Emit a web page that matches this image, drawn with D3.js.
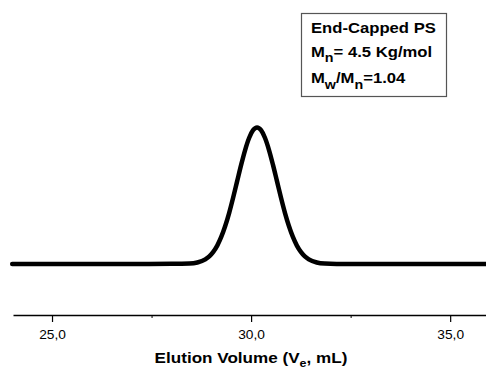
<!DOCTYPE html>
<html>
<head>
<meta charset="utf-8">
<script src="https://cdnjs.cloudflare.com/ajax/libs/d3/7.8.5/d3.min.js"></script>
<style>
  body { margin: 0; background: #fff; }
  text { font-family: "Liberation Sans", Arial, sans-serif; fill: #000; }
</style>
</head>
<body>
<div id="chart"></div>
<script>
// GPC trace (elution volume in mL, normalised detector signal)
var elutionVol = [24.0, 25, 26, 27, 28, 28.45, 28.65, 28.85, 28.95, 29.05, 29.15, 29.25, 29.35,
    29.45, 29.55, 29.65, 29.75, 29.85, 29.95, 30.05, 30.15, 30.25, 30.35, 30.45, 30.55, 30.65,
    30.75, 30.85, 30.95, 31.05, 31.15, 31.25, 31.35, 31.45, 31.65, 31.85, 32.15, 33, 34, 35, 35.9];
var signal = [0, 0, 0, 0, 0.001, 0.003, 0.011, 0.034, 0.056, 0.089, 0.135, 0.198, 0.278,
    0.375, 0.487, 0.607, 0.726, 0.835, 0.923, 0.980, 1.0, 0.980, 0.923, 0.835, 0.726, 0.607,
    0.487, 0.375, 0.278, 0.198, 0.135, 0.089, 0.056, 0.034, 0.011, 0.003, 0.0005, 0, 0, 0, 0];
var majorTicks = [25, 30, 35];
var minorTicks = [27.5, 32.5];

var width = 486, height = 372;

var svg = d3.select("#chart").append("svg")
    .attr("width", width)
    .attr("height", height);

// scales
var x = d3.scaleLinear()
    .domain([24.02, 35.9])
    .range([13, 486]);

var y = d3.scaleLinear()
    .domain([0, 1])
    .range([264, 127.5]);

// x axis
var axisY = 315;
var xAxis = svg.append("g")
    .attr("transform", "translate(0," + axisY + ")")
    .call(d3.axisBottom(x)
        .tickValues(majorTicks)
        .tickSize(7)
        .tickSizeOuter(0)
        .tickPadding(8)
        .tickFormat(function (d) { return d.toFixed(1).replace(".", ","); }));

xAxis.select(".domain").attr("stroke-width", 1.5);
xAxis.selectAll(".tick line").attr("stroke-width", 1.2);
xAxis.selectAll(".tick text")
    .attr("font-size", "12.5px")
    .attr("transform", "scale(1.1,1)");

svg.append("g")
    .attr("transform", "translate(0," + axisY + ")")
    .call(d3.axisBottom(x).tickValues(minorTicks).tickSize(3).tickFormat(""))
    .call(function (g) { g.select(".domain").remove(); });

// axis title
var title = svg.append("text")
    .attr("transform", "translate(251,363) scale(1.14,1)")
    .attr("text-anchor", "middle")
    .attr("font-size", "15px")
    .attr("font-weight", "bold");
title.append("tspan").text("Elution Volume (V");
title.append("tspan").attr("dy", 4).attr("font-size", "11px").text("e");
title.append("tspan").attr("dy", -4).text(", mL)");

// trace
var line = d3.line()
    .x(function (d, i) { return x(elutionVol[i]); })
    .y(function (d) { return y(d); })
    .curve(d3.curveMonotoneX);

svg.append("path")
    .datum(signal)
    .attr("d", line)
    .attr("fill", "none")
    .attr("stroke", "#000")
    .attr("stroke-width", 4.5)
    .attr("stroke-linejoin", "round")
    .attr("stroke-linecap", "round");

// legend box
svg.append("rect")
    .attr("x", 301.5)
    .attr("y", 13.5)
    .attr("width", 145)
    .attr("height", 83)
    .attr("fill", "#fff")
    .attr("stroke", "#555")
    .attr("stroke-width", 1.2);

var legend = svg.append("g")
    .attr("font-size", "14px")
    .attr("font-weight", "bold");

legend.append("text")
    .attr("transform", "translate(311,32.5) scale(1.19,1)")
    .text("End-Capped PS");

var l2 = legend.append("text")
    .attr("transform", "translate(311,57) scale(1.19,1)");
l2.append("tspan").text("M");
l2.append("tspan").attr("dy", 5).attr("font-size", "12px").text("n");
l2.append("tspan").attr("dy", -5).text("= 4.5 Kg/mol");

var l3 = legend.append("text")
    .attr("transform", "translate(311,83) scale(1.19,1)");
l3.append("tspan").text("M");
l3.append("tspan").attr("dy", 6).attr("font-size", "12px").text("w");
l3.append("tspan").attr("dy", -6).text("/M");
l3.append("tspan").attr("dy", 6).attr("font-size", "12px").text("n");
l3.append("tspan").attr("dy", -6).text("=1.04");
</script>
</body>
</html>
